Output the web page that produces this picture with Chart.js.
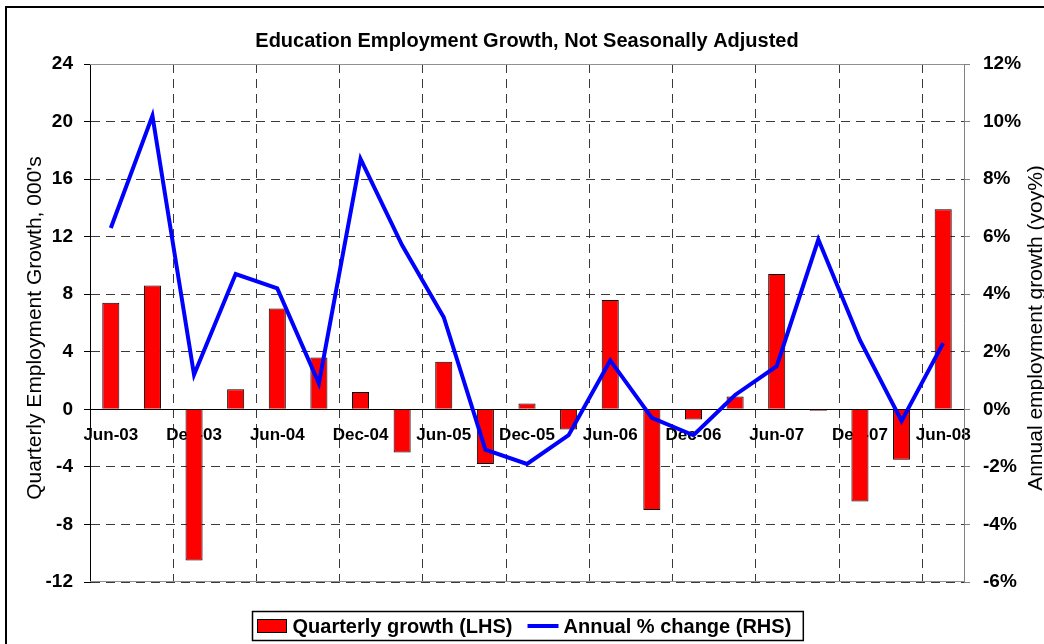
<!DOCTYPE html>
<html>
<head>
<meta charset="utf-8">
<script src="https://cdn.jsdelivr.net/npm/chart.js@4"></script>
<style>
  html, body { margin: 0; padding: 0; background: #fff; overflow: hidden; }
  #wrap { position: absolute; left: 0; top: 0; width: 1044px; height: 644px; }
  #frame { position: absolute; left: 5px; top: 6px; width: 1200px; height: 800px;
           border-left: 2px solid #000; border-top: 2px solid #000; pointer-events: none; }
</style>
</head>
<body>
<div id="wrap"><canvas id="chart"></canvas></div>
<div id="frame"></div>
<script>
const quarters = ["Jun-03", "Sep-03", "Dec-03", "Mar-04", "Jun-04", "Sep-04", "Dec-04",
                  "Mar-05", "Jun-05", "Sep-05", "Dec-05", "Mar-06", "Jun-06", "Sep-06",
                  "Dec-06", "Mar-07", "Jun-07", "Sep-07", "Dec-07", "Mar-08", "Jun-08"];
const quarterlyGrowth = [7.4, 8.6, -10.5, 1.4, 7.0, 3.6, 1.2, -3.0, 3.3, -3.8, 0.4,
                         -1.4, 7.6, -7.0, -0.7, 0.9, 9.4, -0.1, -6.4, -3.5, 13.9];
const annualChange = [6.3, 10.2, 1.2, 4.7, 4.2, 0.9, 8.7, 5.7, 3.2, -1.4, -1.9,
                      -0.9, 1.7, -0.3, -0.9, 0.5, 1.5, 5.9, 2.4, -0.4, 2.3];
const leftTicks = [-12, -8, -4, 0, 4, 8, 12, 16, 20, 24];
const rightTicks = [-6, -4, -2, 0, 2, 4, 6, 8, 10, 12];

const chartTitle = "Education Employment Growth, Not Seasonally Adjusted";
const leftTitle = "Quarterly Employment Growth, 000's";
const rightTitle = "Annual employment growth (yoy%)";

const FONT = '"Liberation Sans", Arial, sans-serif';
Chart.defaults.font.family = FONT;
Chart.defaults.color = "#000";

const gridColor = "#3a3a3a";
const gridDash = [9, 6];

// frame lines, rotated axis titles and boxed legend
const decorations = {
    id: "decorations",
    afterDraw(chart) {
        const { ctx, chartArea: a } = chart;
        ctx.save();

        ctx.strokeStyle = "#909090";
        ctx.lineWidth = 1;
        ctx.beginPath();
        ctx.moveTo(a.left, Math.round(a.top) + 0.5);
        ctx.lineTo(a.right, Math.round(a.top) + 0.5);
        ctx.moveTo(a.left, Math.round(a.bottom) - 0.5);
        ctx.lineTo(a.right, Math.round(a.bottom) - 0.5);
        ctx.stroke();

        ctx.fillStyle = "#000";
        ctx.font = "21px " + FONT;
        ctx.textAlign = "center";
        ctx.textBaseline = "middle";
        const cy = (a.top + a.bottom) / 2 + 5;
        [[a.left - 55, leftTitle], [a.right + 72, rightTitle]].forEach(([x, t]) => {
            ctx.save();
            ctx.translate(x, cy);
            ctx.rotate(-Math.PI / 2);
            ctx.fillText(t, 0, 0);
            ctx.restore();
        });

        // legend
        const ds = chart.data.datasets;
        ctx.font = "bold 20px " + FONT;
        const w1 = ctx.measureText(ds[0].label).width;
        const w2 = ctx.measureText(ds[1].label).width;
        const total = 5 + 29 + 6 + w1 + 15 + 31 + 5 + w2 + 12;
        const left = Math.round((a.left + a.right) / 2 - total / 2) + 0.5;
        const top = Math.round(a.bottom) + 29.5;
        const h = 29;
        const mid = top + h / 2;

        ctx.strokeStyle = "#000";
        ctx.lineWidth = 1.5;
        ctx.strokeRect(left, top, total, h);

        let x = left + 5;
        ctx.fillStyle = ds[0].backgroundColor;
        ctx.fillRect(x, mid - 6.5, 29, 13);
        ctx.lineWidth = 1;
        ctx.strokeStyle = "#000";
        ctx.strokeRect(x, mid - 6.5, 29, 13);
        x += 29 + 6;
        ctx.fillStyle = "#000";
        ctx.textAlign = "left";
        ctx.fillText(ds[0].label, x, mid + 1);
        x += w1 + 15;
        ctx.strokeStyle = ds[1].borderColor;
        ctx.lineWidth = 4;
        ctx.beginPath();
        ctx.moveTo(x, mid);
        ctx.lineTo(x + 31, mid);
        ctx.stroke();
        x += 31 + 5;
        ctx.fillText(ds[1].label, x, mid + 1);

        ctx.restore();
    }
};

new Chart(document.getElementById("chart"), {
    data: {
        labels: quarters,
        datasets: [
            {
                type: "bar",
                label: "Quarterly growth (LHS)",
                data: quarterlyGrowth,
                yAxisID: "y",
                backgroundColor: "#FF0000",
                borderColor: "#000",
                borderWidth: 1,
                categoryPercentage: 1,
                barPercentage: 0.41,
                order: 2
            },
            {
                type: "line",
                label: "Annual % change (RHS)",
                data: annualChange,
                yAxisID: "y1",
                borderColor: "#0000FF",
                backgroundColor: "#0000FF",
                borderWidth: 4,
                pointRadius: 0,
                tension: 0,
                order: 1
            }
        ]
    },
    options: {
        responsive: true,
        maintainAspectRatio: false,
        animation: false,
        layout: { padding: { left: 0, right: 0, top: 0, bottom: 62 } },
        plugins: {
            legend: { display: false },
            tooltip: { enabled: false },
            title: {
                display: true,
                text: chartTitle,
                fullSize: false,
                color: "#000",
                font: { size: 20, weight: "bold" },
                padding: { top: 29, bottom: 11 }
            }
        },
        scales: {
            x: {
                type: "category",
                position: { y: 0 },
                offset: true,
                grid: {
                    offset: true,
                    drawTicks: false,
                    lineWidth: 1,
                    color: c => c.index % 2 === 0 ? gridColor : "rgba(0,0,0,0)"
                },
                border: { display: true, color: "#000", width: 1, dash: gridDash },
                ticks: {
                    autoSkip: false,
                    maxRotation: 0,
                    minRotation: 0,
                    padding: 16,
                    color: "#000",
                    font: { size: 17, weight: "bold" },
                    callback: (v, i) => i % 2 === 0 ? quarters[i] : ""
                }
            },
            y: {
                position: "left",
                min: leftTicks[0],
                max: leftTicks[leftTicks.length - 1],
                afterBuildTicks: s => { s.ticks = leftTicks.map(v => ({ value: v })); },
                afterFit: s => { s.width = 90; },
                grid: {
                    lineWidth: 1,
                    color: c => c.tick && c.tick.value === 0 ? "rgba(0,0,0,0)" : gridColor,
                    drawTicks: true,
                    tickLength: 6,
                    tickColor: "#000"
                },
                border: { display: true, color: "#000", width: 1, dash: gridDash },
                ticks: {
                    padding: 11,
                    color: "#000",
                    font: { size: 19, weight: "bold" }
                }
            },
            y1: {
                position: "right",
                min: rightTicks[0],
                max: rightTicks[rightTicks.length - 1],
                afterBuildTicks: s => { s.ticks = rightTicks.map(v => ({ value: v })); },
                afterFit: s => { s.width = 80; },
                grid: {
                    drawOnChartArea: false,
                    drawTicks: true,
                    tickLength: 6,
                    tickColor: "#808080"
                },
                border: { display: true, color: "#808080", width: 1 },
                ticks: {
                    padding: 13,
                    color: "#000",
                    font: { size: 19, weight: "bold" },
                    callback: v => v + "%"
                }
            }
        }
    },
    plugins: [decorations]
});
</script>
</body>
</html>
